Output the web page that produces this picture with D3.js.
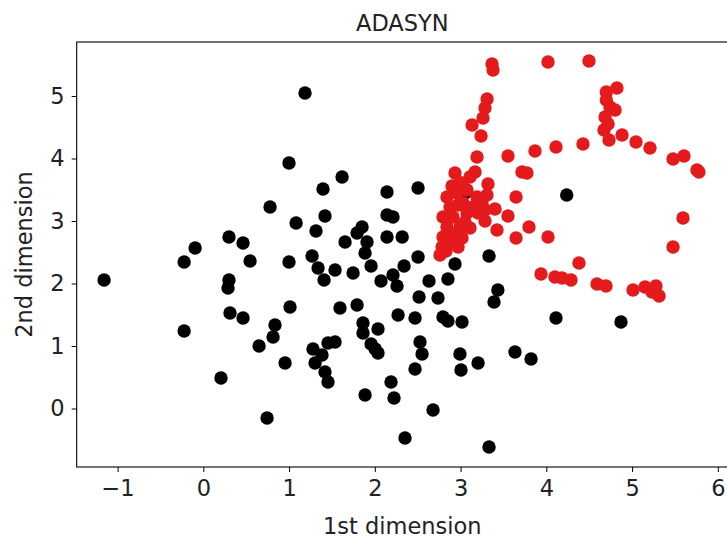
<!DOCTYPE html>
<html>
<head>
<meta charset="utf-8">
<script src="https://cdn.jsdelivr.net/npm/d3@7"></script>
<style>
  html, body { margin: 0; padding: 0; background: #fff; }
  svg { display: block; font-family: "DejaVu Sans", sans-serif; }
</style>
</head>
<body>
<svg id="chart" width="727" height="538"></svg>
<script>
// ---- data ----
const chartTitle = "ADASYN";
const xLabel = "1st dimension";
const yLabel = "2nd dimension";
const xTicks = [-1, 0, 1, 2, 3, 4, 5, 6];
const yTicks = [0, 1, 2, 3, 4, 5];

// original (majority) samples - black
const originalX = [1.186, 0.999, 1.618, 1.396, 2.142, 2.504, 0.778, 1.419, 1.082, 1.314,
  2.142, 2.212, 1.851, 1.793, 1.909, 1.653, 2.142, 2.319, 1.886, 0.999,
  1.268, 1.338, 1.536, 1.408, 1.746, 1.956, 2.504, 2.341, 2.935, 3.332,
  2.072, 2.212, 2.259, 2.632, 2.853, 3.435, 3.390, 2.516, 2.737, 1.011,
  1.594, 1.793, 2.271, 2.469, 2.795, 2.853, 3.017, 1.862, 0.299, 0.463,
  -0.096, -0.224, 0.545, -1.158, 0.299, 0.288, 0.311, 0.463, 0.836, 0.813,
  -0.224, 0.650, 0.953, 0.206, 0.743, 1.279, 1.454, 1.536, 1.384, 1.303,
  1.419, 1.454, 1.862, 2.037, 1.956, 2.037, 2.004, 2.527, 2.551, 2.469,
  2.993, 3.005, 3.204, 2.189, 2.224, 1.886, 2.679, 2.352, 3.332, 3.635,
  3.822, 4.113, 4.871, 4.238, 3.052];
const originalY = [5.048, 3.928, 3.704, 3.512, 3.464, 3.528, 3.224, 3.080, 2.968, 2.840,
  3.096, 3.064, 2.904, 2.808, 2.664, 2.664, 2.744, 2.744, 2.488, 2.344,
  2.440, 2.248, 2.216, 2.056, 2.168, 2.280, 2.424, 2.280, 2.312, 2.440,
  2.040, 2.136, 1.960, 2.040, 2.072, 1.896, 1.704, 1.784, 1.768, 1.624,
  1.608, 1.656, 1.496, 1.448, 1.464, 1.400, 1.384, 1.368, 2.744, 2.648,
  2.568, 2.344, 2.360, 2.056, 2.056, 1.928, 1.528, 1.448, 1.336, 1.144,
  1.240, 1.000, 0.728, 0.488, -0.152, 0.952, 1.048, 1.064, 0.856, 0.728,
  0.584, 0.424, 1.208, 1.272, 1.032, 0.888, 0.952, 1.064, 0.872, 0.632,
  0.872, 0.616, 0.728, 0.424, 0.168, 0.216, -0.024, -0.472, -0.616, 0.904,
  0.792, 1.448, 1.384, 3.416, 3.448];

// synthetic (ADASYN) samples - red
const syntheticX = [4.020, 4.498, 3.367, 3.379, 3.309, 3.285, 3.262, 3.134, 3.239, 3.192,
  3.553, 4.700, 4.824, 4.700, 4.743, 4.802, 4.685, 4.720, 4.673, 4.731,
  4.883, 5.046, 5.209, 5.478, 5.606, 5.757, 5.780, 3.868, 4.113, 4.428,
  3.716, 3.774, 3.647, 3.553, 3.798, 3.647, 4.020, 5.594, 5.478, 4.381,
  3.938, 4.101, 4.183, 4.288, 4.591, 4.696, 5.011, 5.151, 5.279, 5.233,
  5.315, 2.935, 3.110, 3.169, 3.320, 3.402, 3.285, 3.425, 2.841, 2.958,
  3.075, 3.192, 2.877, 3.029, 3.145, 2.795, 2.912, 3.075, 3.204, 2.841,
  2.993, 2.795, 2.912, 2.784, 2.877, 2.760, 2.993, 3.017,
  2.971, 3.017, 3.110, 3.250, 3.308, 2.971, 3.285, 2.900, 3.052, 2.830];
const syntheticY = [5.544, 5.560, 5.512, 5.416, 4.952, 4.808, 4.648, 4.536, 4.360, 4.024,
  4.040, 5.064, 5.128, 4.936, 4.824, 4.776, 4.664, 4.552, 4.456, 4.296,
  4.376, 4.264, 4.168, 3.992, 4.040, 3.816, 3.784, 4.120, 4.184, 4.232,
  3.784, 3.768, 3.384, 3.080, 2.904, 2.728, 2.744, 3.048, 2.584, 2.328,
  2.152, 2.104, 2.088, 2.056, 1.992, 1.960, 1.896, 1.944, 1.960, 1.864,
  1.800, 3.768, 3.704, 3.784, 3.592, 3.192, 3.000, 2.856, 3.384, 3.448,
  3.496, 3.384, 3.224, 3.288, 3.224, 3.064, 3.064, 3.128, 3.128, 2.904,
  2.904, 2.744, 2.776, 2.584, 2.648, 2.456, 3.608, 3.608,
  2.584, 2.728, 2.888, 3.288, 3.416, 3.256, 3.176, 3.560, 2.984, 2.520];

// ---- layout ----
const W = 727, H = 538;
const plot = { left: 76.7, right: 728, top: 42, bottom: 467 };
const fontSize = 22.5;

const svg = d3.select("#chart");
svg.append("rect").attr("width", W).attr("height", H).attr("fill", "#fff");

const x = d3.scaleLinear().domain([-1.477, 6.119]).range([plot.left, plot.right]);
const y = d3.scaleLinear().domain([-0.936, 5.864]).range([plot.bottom, plot.top]);

const fmt = d => (d < 0 ? "\u2212" + Math.abs(d) : String(d));

// points
const gPts = svg.append("g");
const orig = originalX.map((v, i) => ({ x: v, y: originalY[i] }));
const synth = syntheticX.map((v, i) => ({ x: v, y: syntheticY[i] }));
gPts.selectAll("circle.orig").data(orig).join("circle")
  .attr("class", "orig")
  .attr("cx", d => x(d.x)).attr("cy", d => y(d.y)).attr("r", 6.7)
  .attr("fill", "#000");
gPts.selectAll("circle.syn").data(synth).join("circle")
  .attr("class", "syn")
  .attr("cx", d => x(d.x)).attr("cy", d => y(d.y)).attr("r", 6.7)
  .attr("fill", "#e41a1c");

// axes
const xAxis = d3.axisBottom(x).tickValues(xTicks).tickFormat(fmt).tickSize(5).tickPadding(8);
const yAxis = d3.axisLeft(y).tickValues(yTicks).tickFormat(fmt).tickSize(5).tickPadding(7);

const gx = svg.append("g").attr("transform", `translate(0,${plot.bottom})`).call(xAxis);
const gy = svg.append("g").attr("transform", `translate(${plot.left},0)`).call(yAxis);
[gx, gy].forEach(g => {
  g.select(".domain").remove();
  g.selectAll(".tick line").attr("stroke", "#000").attr("stroke-width", 1);
  g.selectAll(".tick text").attr("fill", "#222").attr("font-size", fontSize)
    .attr("font-family", "DejaVu Sans, sans-serif");
});

// frame (spines)
svg.append("rect")
  .attr("x", plot.left).attr("y", plot.top)
  .attr("width", plot.right - plot.left).attr("height", plot.bottom - plot.top)
  .attr("fill", "none").attr("stroke", "#000").attr("stroke-width", 1.1);

// labels
svg.append("text").attr("x", (plot.left + plot.right) / 2).attr("y", 31)
  .attr("text-anchor", "middle").attr("font-size", fontSize).attr("fill", "#222")
  .text(chartTitle);
svg.append("text").attr("x", (plot.left + plot.right) / 2).attr("y", 534)
  .attr("text-anchor", "middle").attr("font-size", fontSize).attr("fill", "#222")
  .text(xLabel);
svg.append("text")
  .attr("transform", `translate(32,${(plot.top + plot.bottom) / 2}) rotate(-90)`)
  .attr("text-anchor", "middle").attr("font-size", fontSize).attr("fill", "#222")
  .text(yLabel);
</script>
</body>
</html>
